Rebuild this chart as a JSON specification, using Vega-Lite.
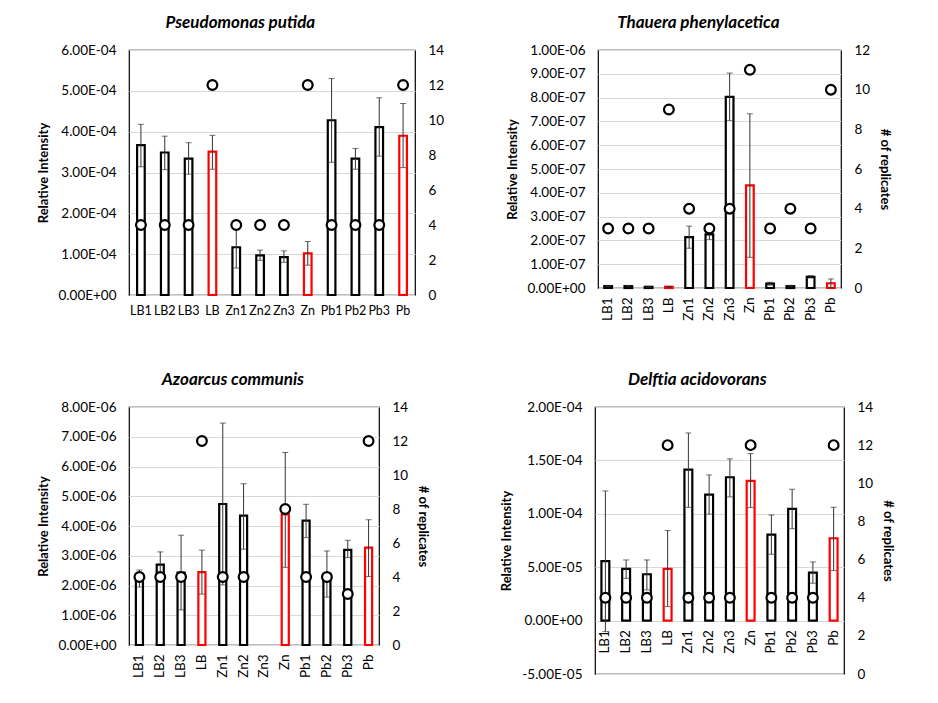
{
  "$schema": "https://vega.github.io/schema/vega-lite/v6.json",
  "padding": {"left": 36, "top": 13, "right": 5, "bottom": 5},
  "background": "white",
  "config": {
    "font": "Lato",
    "view": {"stroke": "#000", "strokeWidth": 1.2},
    "axis": {"labelFont": "Lato", "titleFont": "Lato", "labelColor": "#000", "titleColor": "#000", "labelFontSize": 13.5, "titleFontSize": 13, "titleFontWeight": "bold", "ticks": false, "domain": false, "gridColor": "#d9d9d9", "gridWidth": 1, "labelOverlap": false},
    "title": {"font": "Lato", "fontSize": 17, "fontStyle": "italic", "fontWeight": "bold", "color": "#000", "frame": "bounds", "anchor": "middle", "offset": 11}
  },
  "datasets": {
    "pp": [
      {"s": "LB1", "t": "r", "v": 3.67e-4, "lo": 3.14e-4, "hi": 4.18e-4, "n": 4},
      {"s": "LB2", "t": "r", "v": 3.49e-4, "lo": 3.07e-4, "hi": 3.89e-4, "n": 4},
      {"s": "LB3", "t": "r", "v": 3.34e-4, "lo": 2.96e-4, "hi": 3.73e-4, "n": 4},
      {"s": "LB", "t": "p", "v": 3.51e-4, "lo": 3.08e-4, "hi": 3.91e-4, "n": 12},
      {"s": "Zn1", "t": "r", "v": 1.17e-4, "lo": 0.66e-4, "hi": 1.68e-4, "n": 4},
      {"s": "Zn2", "t": "r", "v": 0.97e-4, "lo": 0.85e-4, "hi": 1.10e-4, "n": 4},
      {"s": "Zn3", "t": "r", "v": 0.93e-4, "lo": 0.80e-4, "hi": 1.08e-4, "n": 4},
      {"s": "Zn", "t": "p", "v": 1.02e-4, "lo": 0.73e-4, "hi": 1.31e-4, "n": 12},
      {"s": "Pb1", "t": "r", "v": 4.28e-4, "lo": 3.25e-4, "hi": 5.30e-4, "n": 4},
      {"s": "Pb2", "t": "r", "v": 3.34e-4, "lo": 3.08e-4, "hi": 3.59e-4, "n": 4},
      {"s": "Pb3", "t": "r", "v": 4.11e-4, "lo": 3.40e-4, "hi": 4.83e-4, "n": 4},
      {"s": "Pb", "t": "p", "v": 3.90e-4, "lo": 3.12e-4, "hi": 4.69e-4, "n": 12}
    ],
    "tp": [
      {"s": "LB1", "t": "r", "v": 0.08e-7, "lo": 0.05e-7, "hi": 0.11e-7, "n": 3},
      {"s": "LB2", "t": "r", "v": 0.08e-7, "lo": 0.05e-7, "hi": 0.11e-7, "n": 3},
      {"s": "LB3", "t": "r", "v": 0.05e-7, "lo": 0.03e-7, "hi": 0.07e-7, "n": 3},
      {"s": "LB", "t": "p", "v": 0.05e-7, "lo": 0.03e-7, "hi": 0.07e-7, "n": 9},
      {"s": "Zn1", "t": "r", "v": 2.14e-7, "lo": 1.67e-7, "hi": 2.60e-7, "n": 4},
      {"s": "Zn2", "t": "r", "v": 2.25e-7, "lo": 2.03e-7, "hi": 2.47e-7, "n": 3},
      {"s": "Zn3", "t": "r", "v": 8.03e-7, "lo": 7.03e-7, "hi": 9.03e-7, "n": 4},
      {"s": "Zn", "t": "p", "v": 4.31e-7, "lo": 1.29e-7, "hi": 7.32e-7, "n": 11},
      {"s": "Pb1", "t": "r", "v": 0.18e-7, "lo": 0.12e-7, "hi": 0.24e-7, "n": 3},
      {"s": "Pb2", "t": "r", "v": 0.08e-7, "lo": 0.05e-7, "hi": 0.11e-7, "n": 4},
      {"s": "Pb3", "t": "r", "v": 0.47e-7, "lo": 0.42e-7, "hi": 0.52e-7, "n": 3},
      {"s": "Pb", "t": "p", "v": 0.20e-7, "lo": 0.02e-7, "hi": 0.38e-7, "n": 10}
    ],
    "ac": [
      {"s": "LB1", "t": "r", "v": 2.24e-6, "lo": 1.95e-6, "hi": 2.52e-6, "n": 4},
      {"s": "LB2", "t": "r", "v": 2.70e-6, "lo": 2.26e-6, "hi": 3.13e-6, "n": 4},
      {"s": "LB3", "t": "r", "v": 2.43e-6, "lo": 1.18e-6, "hi": 3.69e-6, "n": 4},
      {"s": "LB", "t": "p", "v": 2.45e-6, "lo": 1.71e-6, "hi": 3.19e-6, "n": 12},
      {"s": "Zn1", "t": "r", "v": 4.74e-6, "lo": 2.02e-6, "hi": 7.46e-6, "n": 4},
      {"s": "Zn2", "t": "r", "v": 4.35e-6, "lo": 3.22e-6, "hi": 5.42e-6, "n": 4},
      {"s": "Zn3", "t": "r", "v": null, "lo": null, "hi": null, "n": null},
      {"s": "Zn", "t": "p", "v": 4.39e-6, "lo": 2.61e-6, "hi": 6.47e-6, "n": 8},
      {"s": "Pb1", "t": "r", "v": 4.18e-6, "lo": 3.61e-6, "hi": 4.73e-6, "n": 4},
      {"s": "Pb2", "t": "r", "v": 2.39e-6, "lo": 1.61e-6, "hi": 3.16e-6, "n": 4},
      {"s": "Pb3", "t": "r", "v": 3.20e-6, "lo": 2.94e-6, "hi": 3.52e-6, "n": 3},
      {"s": "Pb", "t": "p", "v": 3.27e-6, "lo": 2.30e-6, "hi": 4.21e-6, "n": 12}
    ],
    "da": [
      {"s": "LB1", "t": "r", "v": 5.56e-5, "lo": -1.03e-5, "hi": 12.14e-5, "n": 4},
      {"s": "LB2", "t": "r", "v": 4.84e-5, "lo": 3.96e-5, "hi": 5.68e-5, "n": 4},
      {"s": "LB3", "t": "r", "v": 4.34e-5, "lo": 2.87e-5, "hi": 5.68e-5, "n": 4},
      {"s": "LB", "t": "p", "v": 4.84e-5, "lo": 1.31e-5, "hi": 8.43e-5, "n": 12},
      {"s": "Zn1", "t": "r", "v": 14.14e-5, "lo": 10.61e-5, "hi": 17.57e-5, "n": 4},
      {"s": "Zn2", "t": "r", "v": 11.80e-5, "lo": 9.96e-5, "hi": 13.64e-5, "n": 4},
      {"s": "Zn3", "t": "r", "v": 13.42e-5, "lo": 11.58e-5, "hi": 15.14e-5, "n": 4},
      {"s": "Zn", "t": "p", "v": 13.08e-5, "lo": 10.58e-5, "hi": 15.64e-5, "n": 12},
      {"s": "Pb1", "t": "r", "v": 8.05e-5, "lo": 6.21e-5, "hi": 9.89e-5, "n": 4},
      {"s": "Pb2", "t": "r", "v": 10.46e-5, "lo": 8.61e-5, "hi": 12.30e-5, "n": 4},
      {"s": "Pb3", "t": "r", "v": 4.49e-5, "lo": 3.50e-5, "hi": 5.49e-5, "n": 4},
      {"s": "Pb", "t": "p", "v": 7.71e-5, "lo": 4.68e-5, "hi": 10.61e-5, "n": 12}
    ]
  },
  "vconcat": [
    {
      "hconcat": [
        {
          "title": {"text": "Pseudomonas putida"},
          "width": 286, "height": 245,
          "data": {"name": "pp"},
          "encoding": {"x": {"field": "s", "type": "nominal", "sort": null, "scale": {"domain": ["LB1","LB2","LB3","LB","Zn1","Zn2","Zn3","Zn","Pb1","Pb2","Pb3","Pb"], "paddingInner": 0.68}, "axis": {"title": null, "labelAngle": 0, "labelPadding": 9, "labelFontSize": 12.5, "grid": false}}},
          "layer": [
            {"layer": [
              {"mark": {"type": "bar", "fill": "white", "strokeWidth": 2.2}, "encoding": {"y": {"field": "v", "type": "quantitative", "title": "Relative Intensity", "scale": {"domain": [0, 0.0006], "nice": false}, "axis": {"values": [0, 0.0001, 0.0002, 0.0003, 0.0004, 0.0005, 0.0006], "labelExpr": "replace(replace(replace(format(datum.value,'.2e'),'e-','E-0'),'e+','E+0'),'−','-')", "grid": true, "labelPadding": 13, "titlePadding": 8}}, "stroke": {"field": "t", "type": "nominal", "scale": {"domain": ["r","p"], "range": ["#000000","#ff0000"]}, "legend": null}}},
              {"mark": {"type": "rule", "color": "#333", "strokeWidth": 1}, "encoding": {"y": {"field": "lo", "type": "quantitative", "title": "Relative Intensity", "axis": {"values": [0, 0.0001, 0.0002, 0.0003, 0.0004, 0.0005, 0.0006], "labelExpr": "replace(replace(replace(format(datum.value,'.2e'),'e-','E-0'),'e+','E+0'),'−','-')", "grid": true, "labelPadding": 13, "titlePadding": 8}}, "y2": {"field": "hi"}}},
              {"mark": {"type": "tick", "color": "#333", "size": 6, "thickness": 1}, "encoding": {"y": {"field": "hi", "type": "quantitative", "title": "Relative Intensity", "axis": {"values": [0, 0.0001, 0.0002, 0.0003, 0.0004, 0.0005, 0.0006], "labelExpr": "replace(replace(replace(format(datum.value,'.2e'),'e-','E-0'),'e+','E+0'),'−','-')", "grid": true, "labelPadding": 13, "titlePadding": 8}}}},
              {"mark": {"type": "tick", "color": "#333", "size": 6, "thickness": 1}, "encoding": {"y": {"field": "lo", "type": "quantitative", "title": "Relative Intensity", "axis": {"values": [0, 0.0001, 0.0002, 0.0003, 0.0004, 0.0005, 0.0006], "labelExpr": "replace(replace(replace(format(datum.value,'.2e'),'e-','E-0'),'e+','E+0'),'−','-')", "grid": true, "labelPadding": 13, "titlePadding": 8}}}}
            ]},
            {"mark": {"type": "point", "shape": "circle", "filled": false, "fill": "white", "fillOpacity": 1, "stroke": "#000", "strokeWidth": 2.2, "size": 95, "opacity": 1}, "encoding": {"y": {"field": "n", "type": "quantitative", "scale": {"domain": [0, 14], "nice": false}, "axis": {"orient": "right", "title": null, "values": [0,2,4,6,8,10,12,14], "grid": false, "labelPadding": 13}}}}
          ],
          "resolve": {"scale": {"y": "independent"}}
        },
        {
          "title": {"text": "Thauera phenylacetica"},
          "width": 243, "height": 238,
          "data": {"name": "tp"},
          "encoding": {"x": {"field": "s", "type": "nominal", "sort": null, "scale": {"domain": ["LB1","LB2","LB3","LB","Zn1","Zn2","Zn3","Zn","Pb1","Pb2","Pb3","Pb"], "paddingInner": 0.62}, "axis": {"title": null, "labelAngle": -90, "labelPadding": 9, "grid": false}}},
          "layer": [
            {"layer": [
              {"mark": {"type": "bar", "fill": "white", "strokeWidth": 2.2}, "encoding": {"y": {"field": "v", "type": "quantitative", "title": "Relative Intensity", "scale": {"domain": [0, 0.000001], "nice": false}, "axis": {"values": [0, 1e-7, 2e-7, 3e-7, 4e-7, 5e-7, 6e-7, 7e-7, 8e-7, 9e-7, 1e-6], "labelExpr": "replace(replace(replace(format(datum.value,'.2e'),'e-','E-0'),'e+','E+0'),'−','-')", "grid": true, "labelPadding": 13, "titlePadding": 8}}, "stroke": {"field": "t", "type": "nominal", "scale": {"domain": ["r","p"], "range": ["#000000","#ff0000"]}, "legend": null}}},
              {"mark": {"type": "rule", "color": "#333", "strokeWidth": 1}, "encoding": {"y": {"field": "lo", "type": "quantitative", "title": "Relative Intensity", "axis": {"values": [0, 1e-7, 2e-7, 3e-7, 4e-7, 5e-7, 6e-7, 7e-7, 8e-7, 9e-7, 1e-6], "labelExpr": "replace(replace(replace(format(datum.value,'.2e'),'e-','E-0'),'e+','E+0'),'−','-')", "grid": true, "labelPadding": 13, "titlePadding": 8}}, "y2": {"field": "hi"}}},
              {"mark": {"type": "tick", "color": "#333", "size": 6, "thickness": 1}, "encoding": {"y": {"field": "hi", "type": "quantitative", "title": "Relative Intensity", "axis": {"values": [0, 1e-7, 2e-7, 3e-7, 4e-7, 5e-7, 6e-7, 7e-7, 8e-7, 9e-7, 1e-6], "labelExpr": "replace(replace(replace(format(datum.value,'.2e'),'e-','E-0'),'e+','E+0'),'−','-')", "grid": true, "labelPadding": 13, "titlePadding": 8}}}},
              {"mark": {"type": "tick", "color": "#333", "size": 6, "thickness": 1}, "encoding": {"y": {"field": "lo", "type": "quantitative", "title": "Relative Intensity", "axis": {"values": [0, 1e-7, 2e-7, 3e-7, 4e-7, 5e-7, 6e-7, 7e-7, 8e-7, 9e-7, 1e-6], "labelExpr": "replace(replace(replace(format(datum.value,'.2e'),'e-','E-0'),'e+','E+0'),'−','-')", "grid": true, "labelPadding": 13, "titlePadding": 8}}}}
            ]},
            {"mark": {"type": "point", "shape": "circle", "filled": false, "fill": "white", "fillOpacity": 1, "stroke": "#000", "strokeWidth": 2.2, "size": 95, "opacity": 1}, "encoding": {"y": {"field": "n", "type": "quantitative", "scale": {"domain": [0, 12], "nice": false}, "axis": {"orient": "right", "title": "# of replicates", "values": [0,2,4,6,8,10,12], "grid": false, "labelPadding": 13, "titlePadding": 8}}}}
          ],
          "resolve": {"scale": {"y": "independent"}}
        }
      ],
      "spacing": 60
    },
    {
      "hconcat": [
        {
          "title": {"text": "Azoarcus communis"},
          "width": 250, "height": 238,
          "data": {"name": "ac"},
          "encoding": {"x": {"field": "s", "type": "nominal", "sort": null, "scale": {"domain": ["LB1","LB2","LB3","LB","Zn1","Zn2","Zn3","Zn","Pb1","Pb2","Pb3","Pb"], "paddingInner": 0.66}, "axis": {"title": null, "labelAngle": -90, "labelPadding": 9, "grid": false}}},
          "layer": [
            {"layer": [
              {"mark": {"type": "bar", "fill": "white", "strokeWidth": 2.2}, "encoding": {"y": {"field": "v", "type": "quantitative", "title": "Relative Intensity", "scale": {"domain": [0, 0.000008], "nice": false}, "axis": {"values": [0, 1e-6, 2e-6, 3e-6, 4e-6, 5e-6, 6e-6, 7e-6, 8e-6], "labelExpr": "replace(replace(replace(format(datum.value,'.2e'),'e-','E-0'),'e+','E+0'),'−','-')", "grid": true, "labelPadding": 13, "titlePadding": 8}}, "stroke": {"field": "t", "type": "nominal", "scale": {"domain": ["r","p"], "range": ["#000000","#ff0000"]}, "legend": null}}},
              {"mark": {"type": "rule", "color": "#333", "strokeWidth": 1}, "encoding": {"y": {"field": "lo", "type": "quantitative", "title": "Relative Intensity", "axis": {"values": [0, 1e-6, 2e-6, 3e-6, 4e-6, 5e-6, 6e-6, 7e-6, 8e-6], "labelExpr": "replace(replace(replace(format(datum.value,'.2e'),'e-','E-0'),'e+','E+0'),'−','-')", "grid": true, "labelPadding": 13, "titlePadding": 8}}, "y2": {"field": "hi"}}},
              {"mark": {"type": "tick", "color": "#333", "size": 6, "thickness": 1}, "encoding": {"y": {"field": "hi", "type": "quantitative", "title": "Relative Intensity", "axis": {"values": [0, 1e-6, 2e-6, 3e-6, 4e-6, 5e-6, 6e-6, 7e-6, 8e-6], "labelExpr": "replace(replace(replace(format(datum.value,'.2e'),'e-','E-0'),'e+','E+0'),'−','-')", "grid": true, "labelPadding": 13, "titlePadding": 8}}}},
              {"mark": {"type": "tick", "color": "#333", "size": 6, "thickness": 1}, "encoding": {"y": {"field": "lo", "type": "quantitative", "title": "Relative Intensity", "axis": {"values": [0, 1e-6, 2e-6, 3e-6, 4e-6, 5e-6, 6e-6, 7e-6, 8e-6], "labelExpr": "replace(replace(replace(format(datum.value,'.2e'),'e-','E-0'),'e+','E+0'),'−','-')", "grid": true, "labelPadding": 13, "titlePadding": 8}}}}
            ]},
            {"mark": {"type": "point", "shape": "circle", "filled": false, "fill": "white", "fillOpacity": 1, "stroke": "#000", "strokeWidth": 2.2, "size": 95, "opacity": 1}, "encoding": {"y": {"field": "n", "type": "quantitative", "scale": {"domain": [0, 14], "nice": false}, "axis": {"orient": "right", "title": "# of replicates", "values": [0,2,4,6,8,10,12,14], "grid": false, "labelPadding": 13, "titlePadding": 8}}}}
          ],
          "resolve": {"scale": {"y": "independent"}}
        },
        {
          "title": {"text": "Delftia acidovorans"},
          "width": 249, "height": 267,
          "data": {"name": "da"},
          "encoding": {"x": {"field": "s", "type": "nominal", "sort": null, "scale": {"domain": ["LB1","LB2","LB3","LB","Zn1","Zn2","Zn3","Zn","Pb1","Pb2","Pb3","Pb"], "paddingInner": 0.62}, "axis": {"title": null, "labelAngle": -90, "labelPadding": 9, "grid": false, "offset": -53.4}}},
          "layer": [
            {"layer": [
              {"mark": {"type": "bar", "fill": "white", "strokeWidth": 2.2}, "encoding": {"y": {"field": "v", "type": "quantitative", "title": "Relative Intensity", "scale": {"domain": [-0.00005, 0.0002], "nice": false}, "axis": {"values": [-0.00005, 0, 0.00005, 0.0001, 0.00015, 0.0002], "labelExpr": "replace(replace(replace(format(datum.value,'.2e'),'e-','E-0'),'e+','E+0'),'−','-')", "grid": true, "labelPadding": 13, "titlePadding": 8}}, "stroke": {"field": "t", "type": "nominal", "scale": {"domain": ["r","p"], "range": ["#000000","#ff0000"]}, "legend": null}}},
              {"mark": {"type": "rule", "color": "#333", "strokeWidth": 1}, "encoding": {"y": {"field": "lo", "type": "quantitative", "title": "Relative Intensity", "axis": {"values": [-0.00005, 0, 0.00005, 0.0001, 0.00015, 0.0002], "labelExpr": "replace(replace(replace(format(datum.value,'.2e'),'e-','E-0'),'e+','E+0'),'−','-')", "grid": true, "labelPadding": 13, "titlePadding": 8}}, "y2": {"field": "hi"}}},
              {"mark": {"type": "tick", "color": "#333", "size": 6, "thickness": 1}, "encoding": {"y": {"field": "hi", "type": "quantitative", "title": "Relative Intensity", "axis": {"values": [-0.00005, 0, 0.00005, 0.0001, 0.00015, 0.0002], "labelExpr": "replace(replace(replace(format(datum.value,'.2e'),'e-','E-0'),'e+','E+0'),'−','-')", "grid": true, "labelPadding": 13, "titlePadding": 8}}}},
              {"mark": {"type": "tick", "color": "#333", "size": 6, "thickness": 1}, "encoding": {"y": {"field": "lo", "type": "quantitative", "title": "Relative Intensity", "axis": {"values": [-0.00005, 0, 0.00005, 0.0001, 0.00015, 0.0002], "labelExpr": "replace(replace(replace(format(datum.value,'.2e'),'e-','E-0'),'e+','E+0'),'−','-')", "grid": true, "labelPadding": 13, "titlePadding": 8}}}}
            ]},
            {"mark": {"type": "point", "shape": "circle", "filled": false, "fill": "white", "fillOpacity": 1, "stroke": "#000", "strokeWidth": 2.2, "size": 95, "opacity": 1}, "encoding": {"y": {"field": "n", "type": "quantitative", "scale": {"domain": [0, 14], "nice": false}, "axis": {"orient": "right", "title": "# of replicates", "values": [0,2,4,6,8,10,12,14], "grid": false, "labelPadding": 13, "titlePadding": 8}}}}
          ],
          "resolve": {"scale": {"y": "independent"}}
        }
      ],
      "spacing": 70
    }
  ],
  "spacing": 48
}
